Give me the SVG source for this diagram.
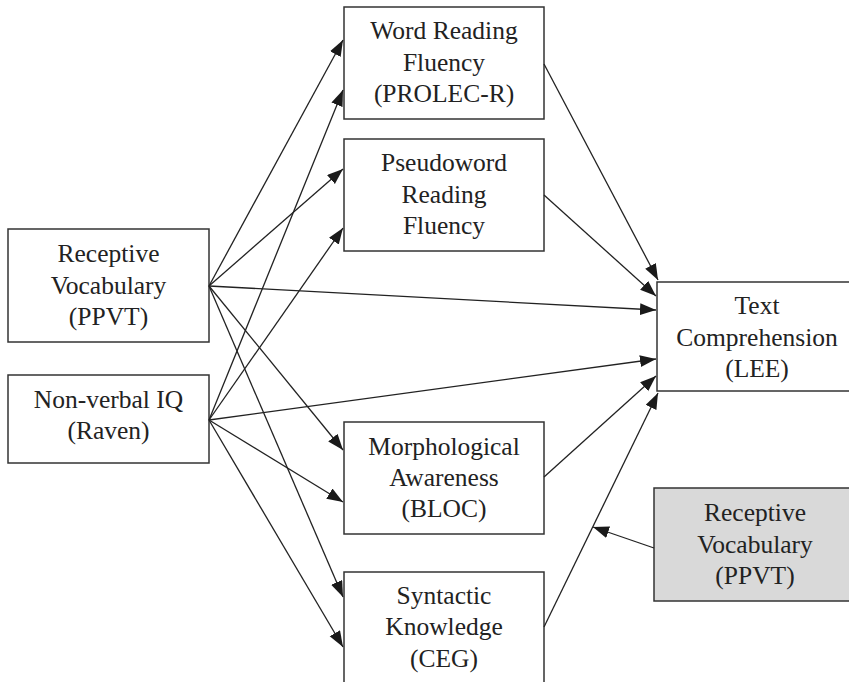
<svg xmlns="http://www.w3.org/2000/svg" width="849" height="682" viewBox="0 0 849 682">
<style>
.box{fill:#fff;stroke:#333;stroke-width:1.5}
.grey{fill:#d9d9d9;stroke:#333;stroke-width:1.5}
text{font-family:"Liberation Serif","Times New Roman",serif;font-size:25.5px;fill:#222;text-anchor:middle}
.c line{stroke:#222;stroke-width:1.3;marker-end:url(#ah)}
</style>
<defs>
<marker id="ah" markerUnits="userSpaceOnUse" markerWidth="17" markerHeight="13" refX="16" refY="6" orient="auto">
<path d="M0,0 L16,6 L0,12 z" fill="#1a1a1a"/>
</marker>
</defs>
<rect width="849" height="682" fill="#fff"/>
<g id="rv">
<rect class="box" x="8" y="229" width="201" height="113"/>
<text x="108.5" y="262">Receptive</text>
<text x="108.5" y="294">Vocabulary</text>
<text x="108.5" y="325">(PPVT)</text>
</g>
<g id="nv">
<rect class="box" x="8" y="375" width="201" height="88"/>
<text x="108.5" y="408">Non-verbal IQ</text>
<text x="108.5" y="439">(Raven)</text>
</g>
<g id="wrf">
<rect class="box" x="344" y="7" width="200" height="112"/>
<text x="444" y="39">Word Reading</text>
<text x="444" y="71">Fluency</text>
<text x="444" y="102">(PROLEC-R)</text>
</g>
<g id="prf">
<rect class="box" x="344" y="139" width="200" height="112"/>
<text x="444" y="171">Pseudoword</text>
<text x="444" y="203">Reading</text>
<text x="444" y="234">Fluency</text>
</g>
<g id="ma">
<rect class="box" x="344" y="422" width="200" height="112"/>
<text x="444" y="455">Morphological</text>
<text x="444" y="486">Awareness</text>
<text x="444" y="517">(BLOC)</text>
</g>
<g id="sk">
<rect class="box" x="344" y="572" width="200" height="113"/>
<text x="444" y="604">Syntactic</text>
<text x="444" y="635">Knowledge</text>
<text x="444" y="667">(CEG)</text>
</g>
<g id="tc">
<rect class="box" x="657" y="282" width="200" height="109"/>
<text x="757" y="314">Text</text>
<text x="757" y="346">Comprehension</text>
<text x="757" y="377">(LEE)</text>
</g>
<g id="rv2">
<rect class="grey" x="654" y="488" width="202" height="113"/>
<text x="755" y="521">Receptive</text>
<text x="755" y="553">Vocabulary</text>
<text x="755" y="584">(PPVT)</text>
</g>
<g id="connectors" class="c">
<line x1="209" y1="286" x2="343" y2="40"/>
<line x1="209" y1="286" x2="343" y2="169"/>
<line x1="209" y1="286" x2="656" y2="310"/>
<line x1="209" y1="286" x2="343" y2="450"/>
<line x1="209" y1="286" x2="343" y2="597"/>
<line x1="209" y1="420" x2="343" y2="90"/>
<line x1="209" y1="420" x2="343" y2="228"/>
<line x1="209" y1="420" x2="656" y2="359"/>
<line x1="209" y1="420" x2="343" y2="502"/>
<line x1="209" y1="420" x2="343" y2="647"/>
<line x1="544" y1="64" x2="658" y2="280"/>
<line x1="544" y1="195" x2="656" y2="296"/>
<line x1="544" y1="477" x2="656" y2="376"/>
<line x1="544" y1="627" x2="658" y2="393"/>
<line x1="654" y1="548" x2="593" y2="527"/>
</g>
</svg>
